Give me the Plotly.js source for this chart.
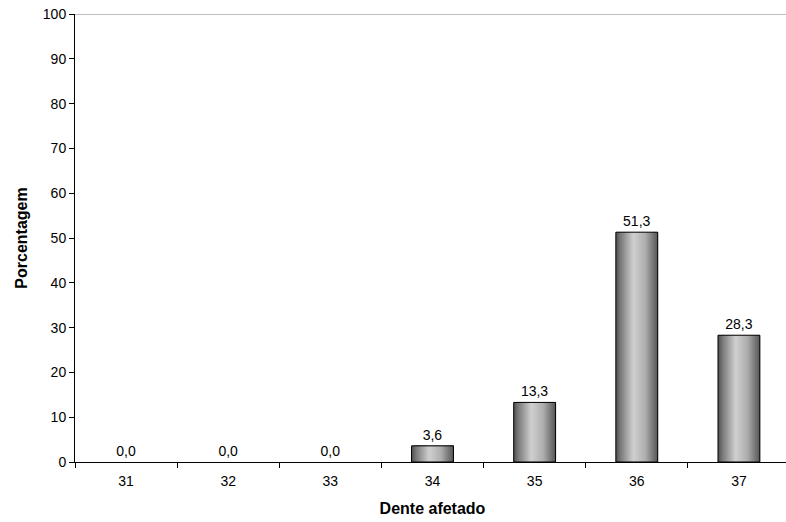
<!DOCTYPE html>
<html>
<head>
<meta charset="utf-8">
<script src="https://cdn.plot.ly/plotly-3.0.1.min.js"></script>
<style>html,body{margin:0;padding:0;background:#fff;overflow:hidden;}#chart{width:790px;height:522px;}</style>
</head>
<body>
<div id="chart"></div>
<script>
const categories = ['31', '32', '33', '34', '35', '36', '37'];
const percentages = [0.0, 0.0, 0.0, 3.6, 13.3, 51.3, 28.3];
const yTickValues = [0, 10, 20, 30, 40, 50, 60, 70, 80, 90, 100];

const barWidth = 0.41;
const nSlices = 40;
const sliceW = barWidth / nSlices;

function shade(t) {
  // dark -> light -> dark cylinder-like gradient
  const stops = [[0, 80], [0.1, 118], [0.42, 208], [0.7, 175], [1, 86]];
  for (let k = 0; k < stops.length - 1; k++) {
    const [t0, c0] = stops[k], [t1, c1] = stops[k + 1];
    if (t >= t0 && t <= t1) {
      const c = Math.round(c0 + (c1 - c0) * (t - t0) / (t1 - t0));
      return 'rgb(' + c + ',' + c + ',' + c + ')';
    }
  }
  return 'rgb(86,86,86)';
}

const traces = [];
// each slice spans from its own left edge to the bar's right edge; later slices cover earlier ones
for (let i = 0; i < nSlices; i++) {
  const t = (i + 0.5) / nSlices;
  traces.push({
    type: 'bar', x: categories, y: percentages,
    width: barWidth - i * sliceW, offset: -barWidth / 2 + i * sliceW,
    marker: { color: shade(t), line: { width: 0 } },
    hoverinfo: 'skip', showlegend: false
  });
}
traces.push({
  type: 'bar', x: categories, y: percentages,
  width: barWidth, offset: -barWidth / 2,
  marker: { color: 'rgba(0,0,0,0)', line: { color: '#000', width: percentages.map(v => v > 0 ? 1 : 0) } },
  text: percentages, texttemplate: '%{y:.1f}', textposition: 'outside',
  textfont: { family: 'Liberation Sans, Arial, sans-serif', size: 14, color: '#000' },
  cliponaxis: false, hoverinfo: 'skip', showlegend: false
});

const layout = {
  width: 790, height: 522,
  margin: { l: 75, r: 0, t: 14, b: 60 },
  paper_bgcolor: '#fff', plot_bgcolor: '#fff',
  barmode: 'overlay',
  separators: ',.',
  showlegend: false,
  hovermode: false,
  font: { family: 'Liberation Sans, Arial, sans-serif', size: 14, color: '#000' },
  xaxis: {
    type: 'category', categoryorder: 'array', categoryarray: categories,
    showline: true, linecolor: '#000', linewidth: 1,
    ticks: 'outside', tickson: 'boundaries', ticklen: 5, tickcolor: '#000',
    ticklabelstandoff: 6,
    showgrid: false, zeroline: false,
    tickfont: { size: 14 },
    title: { text: 'Dente afetado', font: { size: 16, weight: 'bold' }, standoff: 15 }
  },
  yaxis: {
    range: [0, 100], tickvals: yTickValues, ticktext: yTickValues.map(String),
    showline: true, linecolor: '#000', linewidth: 1,
    ticks: 'outside', ticklen: 5, tickcolor: '#000',
    showgrid: false, zeroline: false,
    tickfont: { size: 14 },
    title: { text: 'Porcentagem', font: { size: 16, weight: 'bold' }, standoff: 11 }
  },
  shapes: [{
    type: 'line', xref: 'paper', yref: 'y', x0: 0, x1: 1, y0: 100, y1: 100,
    line: { color: '#808080', width: 1 }
  }]
};

Plotly.newPlot('chart', traces, layout, { displayModeBar: false, staticPlot: true });
</script>
</body>
</html>
